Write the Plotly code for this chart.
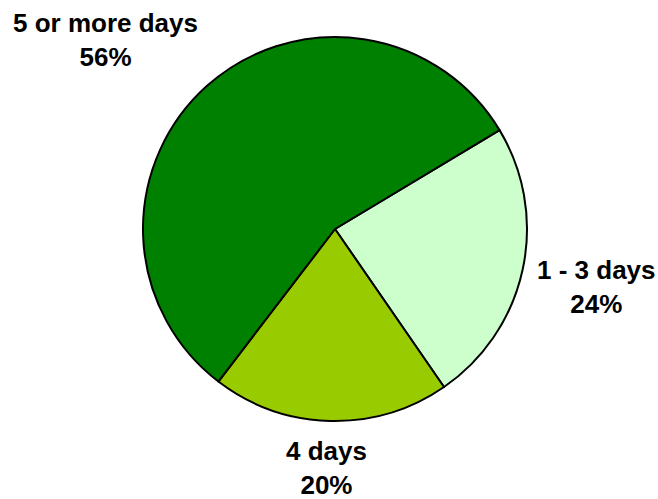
import plotly.graph_objects as go

# Share of respondents by number of days
categories = ["1 - 3 days", "4 days", "5 or more days"]
shares = [24, 20, 56]
colors = ["#CCFFCC", "#99CC00", "#008000"]

# Label anchor points (paper coordinates)
label_x = [0.907, 0.4965, 0.161]
label_y = [0.425, 0.063, 0.920]

fig = go.Figure(
    go.Pie(
        labels=categories,
        values=shares,
        sort=False,
        direction="clockwise",
        rotation=59,
        marker=dict(colors=colors, line=dict(color="black", width=2)),
        textinfo="none",
        showlegend=False,
        domain=dict(x=[143 / 658, 527 / 658], y=[1 - 421 / 499, 1 - 37 / 499]),
    )
)

for cat, val, x, y in zip(categories, shares, label_x, label_y):
    fig.add_annotation(
        x=x,
        y=y,
        xref="paper",
        yref="paper",
        text=f"<b>{cat}</b><br><b>{val}%</b>",
        showarrow=False,
        xanchor="center",
        yanchor="middle",
        align="center",
        borderpad=0,
        font=dict(family="Arial, Liberation Sans, sans-serif", size=26, color="black"),
    )

fig.update_layout(
    width=658,
    height=499,
    margin=dict(l=0, r=0, t=0, b=0),
    paper_bgcolor="white",
    plot_bgcolor="white",
)

fig.write_html("out.html")
